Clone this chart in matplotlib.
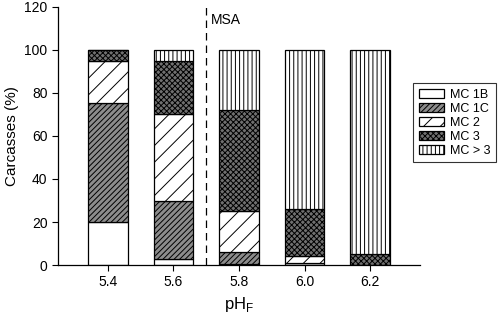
import matplotlib
matplotlib.use("Agg")
import matplotlib.pyplot as plt
import numpy as np

# data
ph = ["5.4", "5.6", "5.8", "6.0", "6.2"]
classes = ["MC 1B", "MC 1C", "MC 2", "MC 3", "MC > 3"]
mc1b = [20, 3, 0.5, 1, 0]
mc1c = [55.5, 27, 5.5, 0, 0]
mc2 = [19.5, 40, 19, 3, 0]
mc3 = [5, 25, 47, 22, 5]
mcgt3 = [0, 5, 28, 74, 95]

series = [mc1b, mc1c, mc2, mc3, mcgt3]
hatches = ["", "//////", "//", "xxxxxx", "||||"]
faces = ["white", "#8c8c8c", "white", "#707070", "white"]

plt.rcParams["font.family"] = ["Liberation Sans", "DejaVu Sans"]
plt.rcParams["hatch.linewidth"] = 0.7

fig = plt.figure(figsize=(5.0, 3.17), dpi=100)
ax = fig.add_axes([0.116, 0.164, 0.724, 0.814])

x = np.arange(len(ph))
bottom = np.zeros(len(ph))
handles = []
for vals, h, fc, lab in zip(series, hatches, faces, classes):
    b = ax.bar(x, vals, width=0.6, bottom=bottom, color=fc, edgecolor="black",
               hatch=h, linewidth=0.9, label=lab)
    handles.append(b)
    bottom += np.array(vals)

ax.axvline(1.5, color="black", linestyle=(0, (6, 4)), linewidth=0.9)
ax.text(1.57, 117, "MSA", fontsize=10, va="top", ha="left")

ax.set_xlim(-0.76, 4.76)
ax.set_ylim(0, 120)
ax.set_yticks(range(0, 121, 20))
ax.set_xticks(x)
ax.set_xticklabels(ph)
ax.tick_params(labelsize=10, width=0.8, length=4)
for s in ("top", "right"):
    ax.spines[s].set_visible(False)
ax.spines["left"].set_linewidth(0.9)
ax.spines["bottom"].set_linewidth(0.9)
ax.set_ylabel("Carcasses (%)", fontsize=11)
ax.set_xlabel("pH$_\\mathregular{F}$", fontsize=12)

leg = fig.legend(handles=handles, labels=classes, loc="upper left",
                 bbox_to_anchor=(0.826, 0.738), fontsize=9, frameon=True,
                 fancybox=False, edgecolor="black", handlelength=2.0,
                 handleheight=0.8, labelspacing=0.15, handletextpad=0.5,
                 borderpad=0.45, borderaxespad=0)
leg.get_frame().set_linewidth(0.8)

fig.savefig("out.png", dpi=100)
